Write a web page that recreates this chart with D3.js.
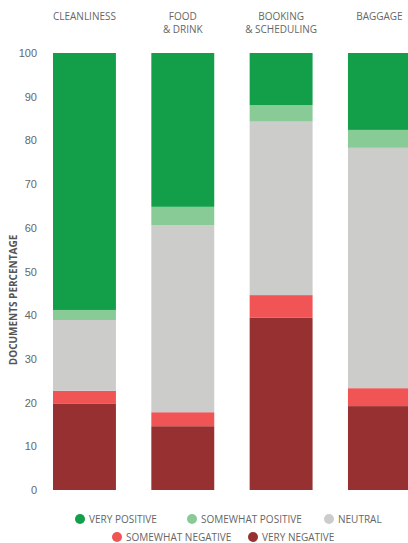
<!DOCTYPE html>
<html>
<head>
<meta charset="utf-8">
<script src="https://d3js.org/d3.v7.min.js"></script>
<style>
  body, html { margin: 0; padding: 0; background: #fff; }
  svg { font-family: "Open Sans", sans-serif; }
  .tick text { fill: #666; font-size: 11px; }
  .cat { fill: #666; font-size: 10px; }
  .ylab { fill: #555; font-size: 10px; font-weight: bold; }
  .leg { fill: #666; font-size: 10px; }
</style>
</head>
<body>
<svg id="chart" width="408" height="543"></svg>
<script>
// categories (two-line titles)
var categories = ["CLEANLINESS", "FOOD\n& DRINK", "BOOKING\n& SCHEDULING", "BAGGAGE"];
var seriesNames = ["VERY NEGATIVE", "SOMEWHAT NEGATIVE", "NEUTRAL", "SOMEWHAT POSITIVE", "VERY POSITIVE"];
var seriesColors = ["#973131", "#f05454", "#cccccb", "#88cb96", "#139f4a"];

// values per series, one per category
var veryNegative     = [19.7, 14.6, 39.4, 19.2];
var somewhatNegative = [3.0, 3.2, 5.2, 4.1];
var neutral          = [16.2, 42.8, 39.7, 55.0];
var somewhatPositive = [2.3, 4.2, 3.8, 4.1];
var veryPositive     = [58.8, 35.2, 11.9, 17.6];

var yTicks = [0, 10, 20, 30, 40, 50, 60, 70, 80, 90, 100];

var legendRows = [
  ["VERY POSITIVE", "SOMEWHAT POSITIVE", "NEUTRAL"],
  ["SOMEWHAT NEGATIVE", "VERY NEGATIVE"]
];

var svg = d3.select("#chart");

var rows = categories.map(function(c, i) {
  return {cat: c, vals: [veryNegative[i], somewhatNegative[i], neutral[i], somewhatPositive[i], veryPositive[i]]};
});

var x = d3.scaleBand()
  .domain(categories)
  .range([35.3, 428.6])
  .paddingInner(0.36)
  .paddingOuter(0.18);

var y = d3.scaleLinear().domain([0, 100]).range([490, 53]);

// y axis (labels only)
var yAxis = svg.append("g")
  .attr("transform", "translate(44,0)")
  .call(d3.axisLeft(y).tickValues(yTicks).tickSize(0).tickPadding(7));
yAxis.select(".domain").remove();

svg.append("text")
  .attr("class", "ylab")
  .attr("text-anchor", "middle")
  .attr("transform", "translate(17,300) rotate(-90)")
  .text("DOCUMENTS PERCENTAGE");

// stacked bars
var stack = d3.stack()
  .keys(d3.range(seriesNames.length))
  .value(function(d, k) { return d.vals[k]; });
var layers = stack(rows);

svg.append("g").selectAll("g")
  .data(layers)
  .enter().append("g")
  .attr("fill", function(d) { return seriesColors[d.key]; })
  .selectAll("rect")
  .data(function(d) { return d; })
  .enter().append("rect")
  .attr("x", function(d) { return x(d.data.cat); })
  .attr("width", x.bandwidth())
  .attr("y", function(d) { return y(Math.min(100, d[1])); })
  .attr("height", function(d) { return y(d[0]) - y(Math.min(100, d[1])); });

// category titles
svg.append("g").selectAll("text")
  .data(categories)
  .enter().append("text")
  .attr("class", "cat")
  .attr("text-anchor", "middle")
  .attr("x", function(d) { return x(d) + x.bandwidth() / 2; })
  .attr("y", 20)
  .each(function(d) {
    var t = d3.select(this);
    d.split("\n").forEach(function(line, i) {
      t.append("tspan")
        .attr("x", x(d) + x.bandwidth() / 2)
        .attr("dy", i === 0 ? 0 : 12.5)
        .text(line);
    });
  });

// legend
var legendX = [[80, 192, 329], [117, 253]];
var legendY = [519, 537];
legendRows.forEach(function(row, r) {
  var g = svg.append("g");
  row.forEach(function(name, i) {
    var col = seriesColors[seriesNames.indexOf(name)];
    g.append("circle")
      .attr("cx", legendX[r][i])
      .attr("cy", legendY[r])
      .attr("r", 5)
      .attr("fill", col);
    g.append("text")
      .attr("class", "leg")
      .attr("x", legendX[r][i] + 9)
      .attr("y", legendY[r] + 3.5)
      .text(name);
  });
});
</script>
</body>
</html>
